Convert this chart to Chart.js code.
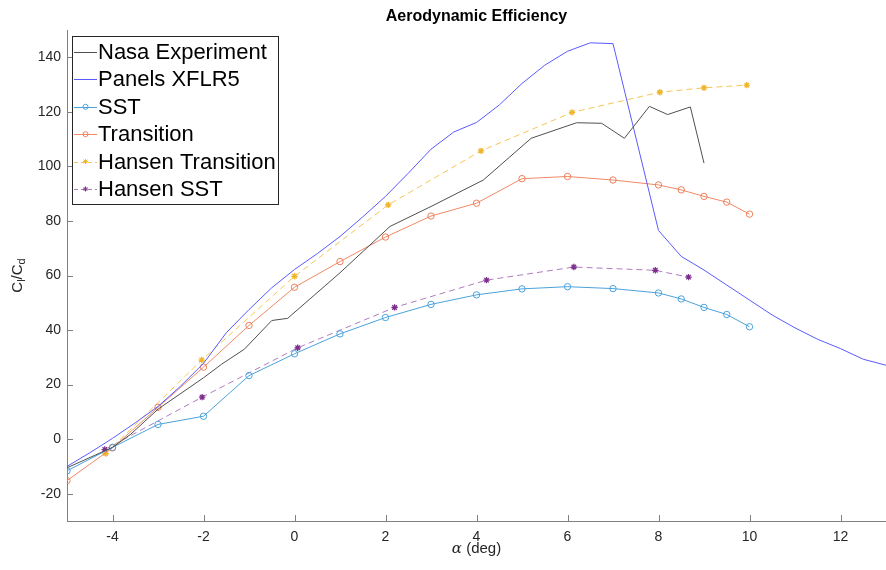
<!DOCTYPE html>
<html>
<head>
<meta charset="utf-8">
<script src="https://cdn.jsdelivr.net/npm/chart.js@4.4.1/dist/chart.umd.min.js"></script>
<style>
  html, body { margin: 0; padding: 0; background: #fff; }
  #wrap { width: 886px; height: 570px; position: relative; }
</style>
</head>
<body>
<div id="wrap"><canvas id="c" width="886" height="570"></canvas></div>
<script>
// Lift-to-drag ratio versus angle of attack
const nasaAlpha = [-5, -4, -3.6, -3, -2, -1.6, -1.1, -0.5, -0.15, 1, 2.1, 3, 4.15, 5.2, 6.2, 6.75, 7.25, 7.8, 8.2, 8.7, 9];
const nasaLD    = [-10.5, -3, 1.8, 11, 22.5, 27.5, 33, 43.5, 44.3, 61, 78, 85.3, 95, 110.3, 116, 115.8, 110.3, 122, 119, 121.8, 101.2];

const xflrAlpha = [-5, -4.5, -4, -3.5, -3, -2.5, -2, -1.5, -1, -0.5, 0, 0.5, 1, 1.5, 2, 2.5, 3, 3.5, 4, 4.5, 5, 5.5, 6, 6.5, 7, 8, 8.5, 9, 9.5, 10, 10.5, 11, 11.5, 12, 12.5, 13];
const xflrLD    = [-10, -5, 0.3, 6, 12, 19.5, 27.8, 39, 47.5, 55.5, 62.2, 68, 74.3, 81.5, 89, 97.5, 106.3, 112.6, 116.1, 122.5, 130.4, 137.1, 142.2, 145.3, 145, 76.5, 67, 62, 56.5, 51, 45.5, 40.8, 36.6, 33.2, 29.3, 27.1];

const cfdAlpha  = [-5, -4, -3, -2, -1, 0, 1, 2, 3, 4, 5, 6, 7, 8, 8.5, 9, 9.5, 10];
const sstLD     = [-11.6, -3.0, 5.4, 8.4, 23.3, 31.3, 38.6, 44.6, 49.4, 52.9, 55.1, 55.9, 55.2, 53.6, 51.4, 48.3, 45.7, 41.2];
const transLD   = [-15.2, -3.2, 11.7, 26.4, 41.7, 55.7, 65.1, 74.1, 81.8, 86.5, 95.5, 96.3, 95.0, 93.2, 91.4, 89.0, 86.9, 82.5];

const hansenTransAlpha = [-4.15, -2.04, 0, 2.06, 4.1, 6.1, 8.03, 9.0, 9.94];
const hansenTransLD    = [-5.3, 29.0, 59.7, 85.9, 105.7, 119.8, 127.2, 128.8, 129.8];

const hansenSstAlpha = [-4.17, -2.03, 0.07, 2.2, 4.22, 6.14, 7.93, 8.66];
const hansenSstLD    = [-3.8, 15.4, 33.5, 48.3, 58.3, 63.1, 61.9, 59.4];

const xTicks = [-4, -2, 0, 2, 4, 6, 8, 10, 12];
const yTicks = [-20, 0, 20, 40, 60, 80, 100, 120, 140];

const seriesNames = ['Nasa Experiment', 'Panels XFLR5', 'SST', 'Transition', 'Hansen Transition', 'Hansen SST'];

const FONT = '"Liberation Sans", Arial, Helvetica, sans-serif';
const pts = (xs, ys) => xs.map((x, i) => ({ x: x, y: ys[i] }));

const datasets = [
  { label: seriesNames[0], data: pts(nasaAlpha, nasaLD), borderColor: '#505050', pointRadius: 0 },
  { label: seriesNames[1], data: pts(xflrAlpha, xflrLD), borderColor: '#5a5aff', pointRadius: 0 },
  { label: seriesNames[2], data: pts(cfdAlpha, sstLD), borderColor: '#4aa2dc', pointStyle: 'circle',
    pointRadius: 3.2, pointBorderColor: '#4aa2dc', pointBackgroundColor: 'rgba(0,0,0,0)', pointBorderWidth: 1 },
  { label: seriesNames[3], data: pts(cfdAlpha, transLD), borderColor: '#ee8a66', pointStyle: 'circle',
    pointRadius: 3.2, pointBorderColor: '#ec7f5a', pointBackgroundColor: 'rgba(0,0,0,0)', pointBorderWidth: 1 },
  { label: seriesNames[4], data: pts(hansenTransAlpha, hansenTransLD), borderColor: '#f4c657', borderDash: [6, 4],
    pointStyle: 'star', pointRadius: 3.2, pointBorderColor: '#efb52a', pointBorderWidth: 1.3 },
  { label: seriesNames[5], data: pts(hansenSstAlpha, hansenSstLD), borderColor: '#b07cc0', borderDash: [6, 4],
    pointStyle: 'star', pointRadius: 3.2, pointBorderColor: '#7e2f8e', pointBorderWidth: 1.3 }
];
datasets.forEach(d => { d.showLine = true; d.borderWidth = 1; d.fill = false; d.tension = 0; });

// MATLAB-style decorations: inward ticks, x tick labels, title, axis labels and boxed legend
const decorations = {
  id: 'decorations',
  afterDraw(chart) {
    const ctx = chart.ctx;
    const xs = chart.scales.x, ys = chart.scales.y;
    const area = chart.chartArea;
    ctx.save();
    ctx.strokeStyle = '#808080';
    ctx.lineWidth = 1;
    ctx.beginPath();
    xTicks.forEach(v => {
      const px = Math.round(xs.getPixelForValue(v)) + 0.5;
      ctx.moveTo(px, area.bottom); ctx.lineTo(px, area.bottom - 6);
    });
    yTicks.forEach(v => {
      const py = Math.round(ys.getPixelForValue(v)) + 0.5;
      ctx.moveTo(area.left, py); ctx.lineTo(area.left + 6, py);
    });
    ctx.stroke();

    // x tick labels
    ctx.fillStyle = '#262626';
    ctx.font = '14px ' + FONT;
    ctx.textAlign = 'center';
    ctx.textBaseline = 'middle';
    xTicks.forEach(v => {
      ctx.fillText(String(v), xs.getPixelForValue(v), 537);
    });

    // title
    ctx.fillStyle = '#000';
    ctx.font = 'bold 16px ' + FONT;
    ctx.fillText('Aerodynamic Efficiency', (area.left + area.right) / 2, 17);

    // x label: α (deg)
    ctx.fillStyle = '#262626';
    const cx = (area.left + area.right) / 2;
    ctx.font = 'italic 15px "DejaVu Serif", serif';
    const aW = ctx.measureText('α').width;
    ctx.font = '15px ' + FONT;
    const restW = ctx.measureText(' (deg)').width;
    let sx = cx - (aW + restW) / 2;
    ctx.textAlign = 'left';
    ctx.font = 'italic 15px "DejaVu Serif", serif';
    ctx.fillText('α', sx, 549);
    ctx.font = '15px ' + FONT;
    ctx.fillText(' (deg)', sx + aW, 549);

    // y label: C_l / C_d
    ctx.translate(18, (area.top + area.bottom) / 2);
    ctx.rotate(-Math.PI / 2);
    const parts = [['C', 0, 15], ['l', 4, 11], ['/C', 0, 15], ['d', 4, 11]];
    let total = 0;
    parts.forEach(p => { ctx.font = p[2] + 'px ' + FONT; total += ctx.measureText(p[0]).width; });
    let ox = -total / 2;
    parts.forEach(p => {
      ctx.font = p[2] + 'px ' + FONT;
      ctx.fillText(p[0], ox, p[1]);
      ox += ctx.measureText(p[0]).width;
    });
    ctx.restore();

    // legend box
    ctx.save();
    const lx = 72.5, ly = 36.5, lw = 206, lh = 168;
    ctx.fillStyle = '#fff';
    ctx.fillRect(lx, ly, lw, lh);
    ctx.strokeStyle = '#262626';
    ctx.lineWidth = 1;
    ctx.strokeRect(lx, ly, lw, lh);
    ctx.font = '22px ' + FONT;
    ctx.textAlign = 'left';
    ctx.textBaseline = 'middle';
    chart.data.datasets.forEach((d, i) => {
      const yy = 52 + i * 27.4;
      ctx.strokeStyle = d.borderColor;
      ctx.lineWidth = 1;
      ctx.setLineDash(d.borderDash ? [4, 3] : []);
      ctx.beginPath();
      ctx.moveTo(74, Math.round(yy) + 0.5);
      ctx.lineTo(97, Math.round(yy) + 0.5);
      ctx.stroke();
      ctx.setLineDash([]);
      if (d.pointRadius > 0) {
        ctx.strokeStyle = d.pointBorderColor;
        if (d.pointStyle === 'circle') {
          ctx.beginPath();
          ctx.arc(85.5, yy, 2.5, 0, Math.PI * 2);
          ctx.stroke();
        } else {
          const r = 2.5;
          ctx.beginPath();
          for (let k = 0; k < 4; k++) {
            const a = k * Math.PI / 4;
            ctx.moveTo(85.5 - r * Math.cos(a), yy - r * Math.sin(a));
            ctx.lineTo(85.5 + r * Math.cos(a), yy + r * Math.sin(a));
          }
          ctx.stroke();
        }
      }
      ctx.fillStyle = '#000';
      ctx.fillText(d.label, 98, yy + 1);
    });
    ctx.restore();
  }
};

new Chart(document.getElementById('c'), {
  type: 'scatter',
  data: { datasets: datasets },
  options: {
    responsive: false,
    animation: false,
    layout: { autoPadding: false, padding: { top: 30, right: 0, left: 0, bottom: 0 } },
    plugins: { legend: { display: false }, title: { display: false }, tooltip: { enabled: false } },
    scales: {
      x: {
        type: 'linear', min: -5, max: 13,
        afterBuildTicks: s => { s.ticks = xTicks.map(v => ({ value: v })); },
        afterFit: s => { s.height = 49; s.paddingLeft = 0; s.paddingRight = 0; },
        grid: { display: false, drawTicks: false },
        border: { display: true, color: '#808080', width: 1 },
        ticks: { display: false }
      },
      y: {
        type: 'linear', min: -30, max: 150,
        afterBuildTicks: s => { s.ticks = yTicks.map(v => ({ value: v })); },
        afterFit: s => { s.width = 67; s.paddingTop = 0; s.paddingBottom = 0; },
        grid: { display: false, drawTicks: false },
        border: { display: true, color: '#808080', width: 1 },
        ticks: { color: '#262626', font: { size: 14, family: FONT }, padding: 6 }
      }
    }
  },
  plugins: [decorations]
});
</script>
</body>
</html>
